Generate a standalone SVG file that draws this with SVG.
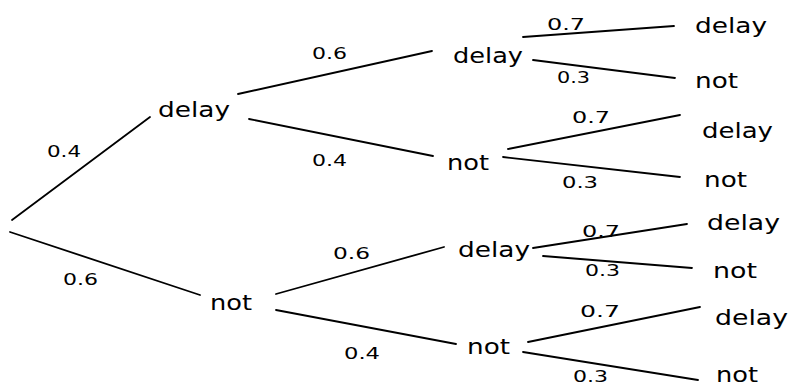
<svg xmlns="http://www.w3.org/2000/svg" width="790" height="387" viewBox="0 0 790 387">
  <style>
    .edge { stroke: #000; stroke-width: 1.8; stroke-linecap: round; fill: none; }
    .node { font-family: "DejaVu Sans", "Liberation Sans", sans-serif; font-size: 22px; fill: #000; }
    .prob { font-family: "DejaVu Sans", "Liberation Sans", sans-serif; font-size: 16px; fill: #000; }
  </style>
  <rect width="790" height="387" fill="#fff"/>

  <!-- branches of the tree -->
  <g id="connectors">
    <line class="edge" x1="12" y1="220" x2="150" y2="117"/>
    <line class="edge" x1="10" y1="232" x2="200" y2="295"/>

    <line class="edge" x1="238" y1="94" x2="432" y2="51"/>
    <line class="edge" x1="249" y1="119" x2="433" y2="156"/>
    <line class="edge" x1="276" y1="294" x2="444" y2="247"/>
    <line class="edge" x1="276" y1="310" x2="456" y2="344"/>

    <line class="edge" x1="523" y1="37" x2="674" y2="26"/>
    <line class="edge" x1="533" y1="60" x2="675" y2="78"/>
    <line class="edge" x1="508" y1="149" x2="680" y2="115"/>
    <line class="edge" x1="503" y1="157" x2="680" y2="177"/>
    <line class="edge" x1="533" y1="248" x2="687" y2="224"/>
    <line class="edge" x1="543" y1="256" x2="692" y2="268"/>
    <line class="edge" x1="528" y1="342" x2="700" y2="307"/>
    <line class="edge" x1="523" y1="352" x2="698" y2="380"/>
  </g>

  <!-- branch probabilities -->
  <g id="probabilities">
    <text class="prob" x="47" y="157" textLength="34" lengthAdjust="spacingAndGlyphs">0.4</text>
    <text class="prob" x="63" y="285" textLength="35" lengthAdjust="spacingAndGlyphs">0.6</text>
    <text class="prob" x="312" y="59" textLength="35" lengthAdjust="spacingAndGlyphs">0.6</text>
    <text class="prob" x="312" y="166" textLength="35" lengthAdjust="spacingAndGlyphs">0.4</text>
    <text class="prob" x="333" y="259" textLength="37" lengthAdjust="spacingAndGlyphs">0.6</text>
    <text class="prob" x="344" y="359" textLength="36" lengthAdjust="spacingAndGlyphs">0.4</text>
    <text class="prob" x="547" y="30" textLength="38" lengthAdjust="spacingAndGlyphs">0.7</text>
    <text class="prob" x="557" y="83" textLength="33" lengthAdjust="spacingAndGlyphs">0.3</text>
    <text class="prob" x="572" y="123" textLength="38" lengthAdjust="spacingAndGlyphs">0.7</text>
    <text class="prob" x="562" y="188" textLength="36" lengthAdjust="spacingAndGlyphs">0.3</text>
    <text class="prob" x="582" y="237" textLength="38" lengthAdjust="spacingAndGlyphs">0.7</text>
    <text class="prob" x="585" y="276" textLength="35" lengthAdjust="spacingAndGlyphs">0.3</text>
    <text class="prob" x="580" y="317" textLength="40" lengthAdjust="spacingAndGlyphs">0.7</text>
    <text class="prob" x="573" y="382" textLength="35" lengthAdjust="spacingAndGlyphs">0.3</text>
  </g>

  <!-- first stage -->
  <g id="n-delay"><text class="node" x="158" y="117" textLength="72" lengthAdjust="spacingAndGlyphs">delay</text></g>
  <g id="n-not"><text class="node" x="210" y="310" textLength="42" lengthAdjust="spacingAndGlyphs">not</text></g>

  <!-- second stage -->
  <g id="n-delay-delay"><text class="node" x="453" y="63" textLength="70" lengthAdjust="spacingAndGlyphs">delay</text></g>
  <g id="n-delay-not"><text class="node" x="447" y="170" textLength="42" lengthAdjust="spacingAndGlyphs">not</text></g>
  <g id="n-not-delay"><text class="node" x="458" y="257" textLength="72" lengthAdjust="spacingAndGlyphs">delay</text></g>
  <g id="n-not-not"><text class="node" x="467" y="354" textLength="43" lengthAdjust="spacingAndGlyphs">not</text></g>

  <!-- third stage -->
  <g id="n-dd-delay"><text class="node" x="695" y="33" textLength="72" lengthAdjust="spacingAndGlyphs">delay</text></g>
  <g id="n-dd-not"><text class="node" x="695" y="88" textLength="43" lengthAdjust="spacingAndGlyphs">not</text></g>
  <g id="n-dn-delay"><text class="node" x="702" y="138" textLength="71" lengthAdjust="spacingAndGlyphs">delay</text></g>
  <g id="n-dn-not"><text class="node" x="704" y="187" textLength="43" lengthAdjust="spacingAndGlyphs">not</text></g>
  <g id="n-nd-delay"><text class="node" x="707" y="230" textLength="73" lengthAdjust="spacingAndGlyphs">delay</text></g>
  <g id="n-nd-not"><text class="node" x="713" y="278" textLength="44" lengthAdjust="spacingAndGlyphs">not</text></g>
  <g id="n-nn-delay"><text class="node" x="715" y="325" textLength="73" lengthAdjust="spacingAndGlyphs">delay</text></g>
  <g id="n-nn-not"><text class="node" x="716" y="382" textLength="42" lengthAdjust="spacingAndGlyphs">not</text></g>
</svg>
